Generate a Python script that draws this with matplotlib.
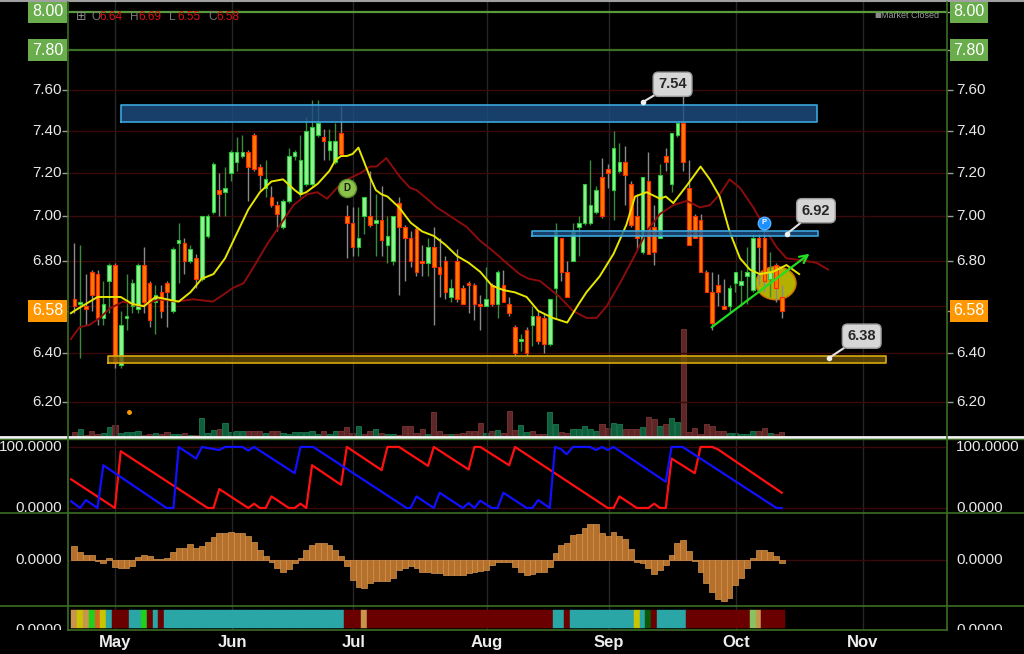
import numpy as np
import matplotlib.pyplot as plt
from matplotlib.patches import Ellipse
from matplotlib.transforms import ScaledTranslation, blended_transform_factory
from matplotlib.ticker import NullLocator
from matplotlib.lines import Line2D

plt.rcParams['font.family'] = ['Liberation Sans', 'DejaVu Sans']

# daily candles (bar index 0 = first visible session)
opens = [6.63, 6.61, 6.60, 6.75, 6.74, 6.55, 6.71, 6.78, 6.35, 6.55,
         6.60, 6.59, 6.78, 6.70, 6.62, 6.66, 6.70, 6.58, 6.88, 6.88,
         6.80, 6.81, 6.72, 6.91, 7.02, 7.12, 7.11, 7.20, 7.25, 7.28,
         7.30, 7.38, 7.23, 7.13, 7.09, 7.05, 6.95, 7.07, 7.28, 7.10,
         7.15, 7.15, 7.38, 7.37, 7.31, 7.25, 7.39, 7.00, 6.97, 6.86,
         7.00, 7.00, 6.97, 6.98, 6.87, 6.80, 7.06, 6.95, 6.90, 6.94,
         6.80, 6.79, 6.86, 6.77, 6.80, 6.64, 6.80, 6.68, 6.70, 6.69,
         6.61, 6.60, 6.69, 6.61, 6.69, 6.61, 6.51, 6.45, 6.50, 6.52,
         6.56, 6.55, 6.44, 6.68, 6.90, 6.75, 6.80, 6.95, 6.97, 6.97,
         7.02, 7.18, 7.22, 7.12, 7.21, 7.25, 7.15, 7.00, 6.84, 7.16,
         6.95, 6.90, 7.28, 7.15, 7.38, 7.44, 7.13, 7.00, 6.98, 6.75,
         6.66, 6.69, 6.60, 6.60, 6.70, 6.69, 6.73, 6.67, 6.90, 6.90,
         6.72, 6.78, 6.64]
highs = [6.88, 6.87, 6.74, 6.76, 6.76, 6.71, 6.79, 6.79, 6.58, 6.74,
         6.72, 6.79, 6.86, 6.71, 6.69, 6.69, 6.71, 6.86, 6.97, 6.90,
         6.87, 6.83, 7.00, 7.01, 7.25, 7.20, 7.23, 7.31, 7.37, 7.38,
         7.31, 7.39, 7.24, 7.26, 7.14, 7.07, 7.08, 7.32, 7.31, 7.38,
         7.47, 7.55, 7.55, 7.41, 7.41, 7.44, 7.52, 7.05, 7.04, 7.04,
         7.09, 7.21, 7.10, 7.14, 7.00, 7.00, 7.09, 6.96, 6.93, 6.95,
         6.87, 6.90, 6.95, 6.90, 6.82, 6.72, 6.85, 6.69, 6.71, 6.70,
         6.65, 6.77, 6.70, 6.76, 6.76, 6.64, 6.52, 6.48, 6.51, 6.60,
         6.58, 6.57, 6.63, 6.97, 6.90, 6.80, 6.97, 7.00, 7.15, 7.26,
         7.14, 7.27, 7.24, 7.40, 7.34, 7.33, 7.16, 7.10, 7.18, 7.30,
         7.05, 7.24, 7.32, 7.39, 7.44, 7.57, 7.26, 7.01, 7.01, 6.76,
         6.75, 6.74, 6.72, 6.69, 6.75, 6.76, 6.86, 6.92, 6.92, 6.94,
         6.84, 6.79, 6.69]
lows = [6.57, 6.38, 6.52, 6.58, 6.52, 6.52, 6.57, 6.34, 6.34, 6.50,
        6.57, 6.57, 6.57, 6.51, 6.48, 6.55, 6.51, 6.57, 6.70, 6.74,
        6.79, 6.68, 6.71, 6.90, 7.01, 7.00, 7.00, 7.16, 7.21, 7.27,
        7.07, 7.21, 7.12, 7.09, 7.04, 6.93, 6.94, 7.06, 7.26, 7.09,
        7.14, 7.14, 7.37, 7.26, 7.26, 7.24, 7.28, 6.81, 6.82, 6.82,
        6.92, 6.95, 6.82, 6.82, 6.79, 6.78, 6.65, 6.71, 6.77, 6.73,
        6.73, 6.73, 6.52, 6.64, 6.63, 6.62, 6.62, 6.61, 6.57, 6.54,
        6.50, 6.60, 6.60, 6.55, 6.62, 6.56, 6.39, 6.41, 6.39, 6.43,
        6.44, 6.40, 6.43, 6.55, 6.71, 6.64, 6.80, 6.82, 6.96, 6.96,
        7.01, 6.99, 7.13, 6.98, 7.20, 7.05, 6.95, 6.85, 6.83, 6.83,
        6.78, 6.90, 7.21, 7.11, 7.37, 7.21, 6.87, 6.90, 6.75, 6.66,
        6.50, 6.60, 6.59, 6.57, 6.66, 6.60, 6.61, 6.66, 6.69, 6.66,
        6.64, 6.62, 6.55]
closes = [6.60, 6.62, 6.59, 6.65, 6.55, 6.61, 6.78, 6.36, 6.52, 6.56,
          6.70, 6.78, 6.62, 6.54, 6.65, 6.58, 6.66, 6.85, 6.89, 6.80,
          6.85, 6.72, 7.00, 7.00, 7.24, 7.10, 7.13, 7.30, 7.30, 7.30,
          7.23, 7.22, 7.19, 7.17, 7.05, 7.01, 7.07, 7.28, 7.30, 7.26,
          7.40, 7.42, 7.44, 7.35, 7.35, 7.35, 7.29, 6.97, 6.86, 6.90,
          7.09, 6.96, 6.98, 6.89, 6.91, 7.00, 6.95, 6.90, 6.80, 6.75,
          6.79, 6.86, 6.77, 6.74, 6.66, 6.68, 6.63, 6.61, 6.69, 6.61,
          6.60, 6.63, 6.61, 6.75, 6.62, 6.57, 6.40, 6.46, 6.40, 6.56,
          6.45, 6.44, 6.63, 6.93, 6.75, 6.64, 6.93, 6.97, 7.15, 7.05,
          7.12, 7.00, 7.20, 7.32, 7.25, 7.19, 6.96, 6.90, 7.18, 6.83,
          6.84, 7.19, 7.25, 7.39, 7.44, 7.25, 6.87, 6.90, 6.75, 6.66,
          6.53, 6.66, 6.59, 6.68, 6.75, 6.71, 6.75, 6.90, 6.86, 6.71,
          6.75, 6.68, 6.58]
volume = [5, 8, 2, 6, 3, 4, 10, 12, 4, 5, 5, 6, 2, 3, 4, 3, 5, 3, 3, 4,
          2, 2, 19, 4, 7, 8, 14, 5, 6, 6, 6, 6, 6, 4, 6, 6, 4, 3, 5, 5,
          5, 6, 3, 6, 3, 6, 6, 10, 4, 11, 3, 6, 8, 4, 3, 3, 2, 11, 11, 4,
          8, 3, 25, 6, 3, 3, 3, 4, 6, 6, 14, 4, 6, 7, 4, 26, 7, 12, 5, 6,
          3, 3, 25, 13, 5, 4, 8, 8, 11, 8, 6, 13, 9, 14, 13, 8, 8, 8, 10, 20,
          18, 11, 13, 19, 15, 108, 5, 9, 3, 13, 11, 6, 6, 4, 4, 3, 3, 6, 6, 9,
          4, 3, 5]
volume_dir = ("rgrrrggrgggg rrgrrggrgr gggrggggrrrgrrgggggggrggrrrgrrgrggrrrrr"
              "grrrgrrrrrgrgrrrggrrrggrrgggggrrggrrrgrrgrggrrrrrrrrgggggrrgrr").replace(" ", "")

# moving averages (bar index, price)
fast_x = [-0.6, 0, 2, 4, 6, 8, 10, 12, 14, 16, 18, 20, 22, 24, 26, 28, 30, 32, 34, 36,
          38, 39, 40, 42, 44, 45, 46, 47, 48, 49, 50, 51, 52, 53, 54, 56, 58, 60, 62, 64,
          66, 68, 70, 72, 74, 76, 78, 80, 82.5, 85, 87, 88.3, 90.6, 93, 95.2, 96.7, 98.7,
          101, 102, 103.3, 105.6, 108, 109.6, 111.3, 113, 114.8, 116.5, 118.2, 120.5, 122.8, 125]
fast_ma = [6.57, 6.58, 6.61, 6.64, 6.64, 6.64, 6.61, 6.60, 6.64, 6.63, 6.62, 6.66, 6.72, 6.74,
           6.81, 6.92, 7.03, 7.11, 7.16, 7.17, 7.12, 7.10, 7.11, 7.15, 7.21, 7.26, 7.28, 7.28,
           7.29, 7.32, 7.25, 7.18, 7.12, 7.10, 7.09, 7.04, 6.97, 6.93, 6.91, 6.87, 6.82, 6.79,
           6.75, 6.69, 6.67, 6.66, 6.64, 6.58, 6.55, 6.53, 6.61, 6.66, 6.73, 6.83, 6.96, 7.09,
           7.11, 7.08, 7.09, 7.06, 7.14, 7.23, 7.17, 7.09, 6.93, 6.81, 6.76, 6.74, 6.75, 6.78, 6.74]
slow_x = [-0.6, 0.9, 2.6, 4.4, 6.1, 8.4, 11.3, 14.7, 17.6, 20.5, 23.9, 25.7, 27.4, 29.2, 30.9,
          33.2, 35.5, 37.8, 40.1, 41.9, 43.6, 45.3, 47.1, 49.4, 51, 52.1, 53.8, 56.2, 57.9, 59,
          60.8, 62.5, 64.8, 67.7, 69.9, 72.3, 74.5, 76.8, 78.3, 80.3, 83.7, 86, 88.3, 90.1,
          91.8, 94.1, 96.4, 98.7, 101, 103.3, 105.6, 107.9, 109.6, 111.3, 113, 114.8, 117.1,
          119.4, 121.1, 122.8, 125.7, 128, 130]
slow_ma = [6.46, 6.51, 6.52, 6.55, 6.59, 6.62, 6.60, 6.63, 6.62, 6.63, 6.62, 6.65, 6.68, 6.70,
           6.77, 6.87, 6.96, 7.05, 7.10, 7.11, 7.08, 7.13, 7.17, 7.20, 7.23, 7.23, 7.27, 7.18,
           7.13, 7.12, 7.08, 7.04, 7.00, 6.95, 6.89, 6.84, 6.79, 6.74, 6.72, 6.71, 6.64, 6.58,
           6.55, 6.55, 6.60, 6.70, 6.81, 6.93, 7.01, 7.05, 7.07, 7.04, 7.05, 7.10, 7.17, 7.13,
           7.04, 6.93, 6.86, 6.81, 6.80, 6.79, 6.76]

# aroon-style oscillator vertices
up_x = [-0.55, 1, 2, 4, 5, 15.9, 17.1, 18, 21, 22, 25, 26, 29, 30, 31, 38, 39, 41.2, 57.3, 58,
        59, 62, 63, 67, 68, 69, 70, 72, 73, 74, 78, 79, 80, 82, 82.9, 84, 84.9, 86, 88.9, 90,
        91, 92, 93, 102, 103, 104.9, 121.1, 122]
up_val = [11, 0, 13, 0, 70, 0, 0, 100, 81, 100, 95, 100, 100, 94, 100, 57, 100, 100, 0, 0,
          19, 0, 25, 0, 8, 0, 12, 0, 0, 25, 0, 0, 13, 0, 100, 96, 88, 100, 100, 95,
          100, 95, 100, 43, 100, 100, 0, 0]
down_x = [-0.55, 7, 8, 23, 24, 25, 30, 31, 32, 33, 34, 37, 38, 39, 40, 41, 46, 47, 53, 54, 56,
          61, 62, 68, 69, 70, 75, 76, 92, 93, 94, 97, 99, 100, 101, 102, 103, 107, 108, 110,
          111, 122]
down_val = [47, 0, 93, 0, 0, 31, 0, 7, 0, 0, 19, 0, 0, 7, 0, 70, 38, 100, 62, 100, 100,
            69, 100, 63, 100, 100, 70, 100, 0, 0, 19, 0, 0, 7, 0, 0, 81, 57, 100, 100,
            96, 25]

hist = [14, 8, 5, 5, -1, -3, 2, -7, -8, -8, -6, 3, 5, 4, 1, 1, 2, 8, 12, 12,
        16, 12, 14, 18, 23, 27, 27, 28, 27, 27, 24, 18, 10, 4, -2, -8, -12, -9, -3, 2,
        10, 15, 17, 17, 15, 10, 4, -6, -20, -27, -28, -23, -21, -21, -21, -18, -10, -8, -6, -8,
        -12, -12, -13, -13, -15, -15, -15, -15, -13, -12, -11, -10, -5, -2, -2, -2, -7, -12, -15, -14,
        -12, -12, -7, 7, 15, 17, 25, 26, 32, 36, 36, 27, 24, 28, 24, 21, 11, -2, -3, -8,
        -14, -10, -5, 5, 17, 20, 9, -1, -12, -23, -32, -39, -41, -38, -25, -18, -8, 2, 10, 10,
        8, 4, -3]

# state strip: (state, number of bars)
strip_runs = [('tan', 1), ('yellow', 1), ('tan', 1), ('green', 1), ('orange', 1), ('yellow', 1),
              ('teal', 1), ('dred', 3), ('teal', 2), ('green', 1), ('dred', 1), ('teal', 1),
              ('dred', 1), ('teal', 31), ('dred', 3), ('tan', 1), ('dred', 32), ('teal', 2),
              ('dred', 1), ('teal', 11), ('yellow', 1), ('teal', 1), ('dgreen', 1), ('dred', 1),
              ('teal', 5), ('dred', 11), ('lgreen', 1), ('tan', 1), ('dred', 4)]

month_names = ['May', 'Jun', 'Jul', 'Aug', 'Sep', 'Oct', 'Nov']
month_pos = [7.0, 27.2, 48.1, 71.1, 92.2, 114.1, 136.0]

price_ticks = [6.2, 6.4, 6.8, 7.0, 7.2, 7.4, 7.6]
grid_levels = [6.2, 6.4, 6.6, 6.8, 7.0, 7.2, 7.4, 7.6]
alert_levels = [8.00, 7.80]
last_price = 6.58

zones = [(8.1, 128.1, 7.443, 7.526), (78.9, 128.2, 6.91, 6.93), (5.8, 140.0, 6.36, 6.39)]
callout_levels = [7.54, 6.92, 6.38]
callout_bar = [98.0, 122.9, 130.1]
trend_from = (109.9, 6.51)
trend_to = (126.8, 6.83)

W, H = 1024, 654
fig = plt.figure(figsize=(W / 100, H / 100), dpi=100, facecolor='black')


def pax(x0, y0, x1, y1):
    a = fig.add_axes([x0 / W, 1 - y1 / H, (x1 - x0) / W, (y1 - y0) / H])
    a.set_facecolor('black')
    for s in a.spines.values():
        s.set_visible(False)
    a.tick_params(left=False, bottom=False, labelleft=False, labelbottom=False)
    a.set_xlim(-1.09, 150.5)
    return a


def fline(xs, ys, color, lw):
    fig.add_artist(Line2D([x / W for x in xs], [1 - y / H for y in ys], color=color, lw=lw))


def ftext(x, y, s, **kw):
    fig.text(x / W, 1 - y / H, s, **kw)


ax = pax(68, 2, 947, 437)
axv = ax.twinx()
for s in axv.spines.values():
    s.set_visible(False)
axv.tick_params(right=False, labelright=False)
axv.set_ylim(0, 435)
axv.set_facecolor('black')
ax.set_zorder(axv.get_zorder() + 1)
ax.patch.set_visible(False)

ax_ar = pax(68, 439, 947, 513)
ax_h = pax(68, 513, 947, 606)
ax_s = pax(68, 606, 947, 630)

o = np.array(opens)
hi = np.array(highs)
lo = np.array(lows)
c = np.array(closes)
idx = np.arange(len(c))
up = c >= o

# volume
vcol = ['#0f5e3c' if d == 'g' else '#5e2626' for d in volume_dir]
vedge = ['#1b7a50' if d == 'g' else '#7a3434' for d in volume_dir]
axv.bar(idx, volume, width=0.9, color=vcol, edgecolor=vedge, lw=0.6)

# price panel
ax.set_yscale('log')
ax.set_ylim(6.06, 8.05)
ax.yaxis.set_minor_locator(NullLocator())
for a in (ax, ax_ar, ax_h, ax_s):
    for m in month_pos:
        a.axvline(m, color='#262626', lw=1, zorder=0)
for g in grid_levels:
    ax.axhline(g, color='#3a0909', lw=1, zorder=1)
ax.axhline(alert_levels[0], color='#5a9a3a', lw=1.6, zorder=1)
ax.axhline(alert_levels[1], color='#3c6e24', lw=1.6, zorder=1)

for (x0, x1, y0, y1), fc, ec in zip(zones, ['#1d4f86', '#1d4f86', '#6a5008'],
                                     ['#3aa6dc', '#3aa6dc', '#d6aa10']):
    ax.fill_between([x0, x1], y0, y1, color=fc, alpha=0.8, lw=0, zorder=6)
    ax.plot([x0, x1, x1, x0, x0], [y0, y0, y1, y1, y0], color=ec, lw=1.2, zorder=6)

ell_tr = fig.dpi_scale_trans + ScaledTranslation(121, 6.70, ax.transData)
ax.add_patch(Ellipse((0, 0), 0.40, 0.33, transform=ell_tr, fc='#c8c400', ec='#d07a00',
                     lw=1.2, alpha=0.9, zorder=2.5))

body_lo = np.minimum(o, c)
body_h = np.maximum(np.abs(c - o), 0.006)
ax.vlines(idx[up], lo[up], hi[up], color='#3d8a3d', lw=1, zorder=3)
ax.vlines(idx[~up], lo[~up], hi[~up], color='#8a8a8a', lw=1, zorder=3)
ax.bar(idx[up], body_h[up], bottom=body_lo[up], width=0.62, color='#96ef96',
       edgecolor='#22cc33', lw=0.8, zorder=4)
ax.bar(idx[~up], body_h[~up], bottom=body_lo[~up], width=0.62, color='#ff7a00',
       edgecolor='#ff2a00', lw=0.8, zorder=4)

ax.plot(slow_x, slow_ma, color='#8b0c0c', lw=1.4, zorder=5)
ax.plot(fast_x, fast_ma, color='#e6e600', lw=1.4, zorder=5)

ax.annotate('', xy=trend_to, xytext=trend_from,
            arrowprops=dict(arrowstyle='->', color='#22dd22', lw=1.6, mutation_scale=14,
                            shrinkA=0, shrinkB=0), zorder=7)

for lvl, xb, off in zip(callout_levels, callout_bar, [(30, 18), (29, 23), (33, 22)]):
    ax.annotate(f'{lvl:.2f}', xy=(xb, lvl), xytext=off, textcoords='offset pixels',
                ha='center', va='center', fontsize=10.5, fontweight='bold', color='#262626',
                bbox=dict(boxstyle='round,pad=0.35', fc='#d6d6d6', ec='#9a9a9a', lw=1),
                arrowprops=dict(arrowstyle='-', color='#e0e0e0', lw=1.5, shrinkA=0, shrinkB=0),
                zorder=8)
    ax.plot(xb, lvl, 'o', ms=3, color='#f0f0f0', zorder=9)

ax.plot(119, 6.97, 'o', ms=9, mfc='#1e8fff', mec='#56b0ff', zorder=8)
ax.text(119, 6.97, 'P', color='white', fontsize=5.5, fontweight='bold', ha='center',
        va='center', zorder=9)
ax.plot(47, 7.13, 'o', ms=13, mfc='#8bc34a', mec='#5c8f2c', zorder=8)
ax.text(47, 7.13, 'D', color='#1c1c1c', fontsize=7, fontweight='bold', ha='center',
        va='center', zorder=9)
ax.plot(9.4, 6.16, 'o', ms=2.5, color='#ff9a00', zorder=8)

ax.set_yticks(price_ticks + alert_levels + [last_price])
ax.tick_params(axis='y', which='major', left=True, right=True, length=4, width=1,
               color='#9a9a9a', labelleft=False, labelright=False)
ytr = ax.get_yaxis_transform()
for p in price_ticks:
    ax.text(-0.0068, p, f'{p:.2f}', transform=ytr, ha='right', va='center',
            color='#e8e8e8', fontsize=11)
    ax.text(1.0102, p, f'{p:.2f}', transform=ytr, ha='left', va='center',
            color='#e8e8e8', fontsize=11)
for p, fc in zip(alert_levels + [last_price], ['#69ad4c', '#69ad4c', '#ff9800']):
    ax.text(-0.0055, p, f'{p:.2f}', transform=ytr, ha='right', va='center', color='white',
            fontsize=11.5, bbox=dict(boxstyle='square,pad=0.22', fc=fc, ec='none'))
    ax.text(1.0075, p, f'{p:.2f}', transform=ytr, ha='left', va='center', color='white',
            fontsize=11.5, bbox=dict(boxstyle='square,pad=0.22', fc=fc, ec='none'))

# oscillator panel
ax_ar.set_ylim(-8.2, 113)
for g in (0, 100):
    ax_ar.axhline(g, color='#3a0909', lw=1, zorder=1)
ax_ar.plot(down_x, down_val, color='#ff1010', lw=1.6, zorder=3)
ax_ar.plot(up_x, up_val, color='#1010ff', lw=1.6, zorder=3)
atr = ax_ar.get_yaxis_transform()
for g, s in ((100, '100.0000'), (0, '0.0000')):
    ax_ar.text(-0.0068, g, s, transform=atr, ha='right', va='center', color='#e8e8e8', fontsize=11)
    ax_ar.text(1.0102, g, s, transform=atr, ha='left', va='center', color='#e8e8e8', fontsize=11)

# histogram panel
ax_h.set_ylim(-46, 47)
ax_h.axhline(0, color='#3a0909', lw=1, zorder=1)
ax_h.bar(idx, hist, width=1.0, color='#b5702c', edgecolor='#d49650', lw=0.5, zorder=3)
htr = ax_h.get_yaxis_transform()
ax_h.text(-0.0068, 0, '0.0000', transform=htr, ha='right', va='center', color='#e8e8e8', fontsize=11)
ax_h.text(1.0102, 0, '0.0000', transform=htr, ha='left', va='center', color='#e8e8e8', fontsize=11)

# state strip
state_col = {'teal': '#2aa6a6', 'dred': '#6a0000', 'tan': '#c8964a', 'yellow': '#c9c400',
             'green': '#1fd01f', 'orange': '#d26a1e', 'lgreen': '#86c460', 'dgreen': '#0a5a0a'}
strip_colors = [state_col[s] for s, k in strip_runs for _ in range(k)]
ax_s.set_ylim(0, 1)
ax_s.bar(idx, 0.76, bottom=0.08, width=1.0, color=strip_colors, edgecolor=strip_colors, lw=0.3)
btr = blended_transform_factory(ax_s.transData, ax_s.transAxes)
for name, pos in zip(month_names, month_pos):
    ax_s.text(pos, -0.52, name, transform=btr, ha='center', va='center', color='#eeeeee',
              fontsize=12, fontweight='bold')

ax_clip = fig.add_axes([0, 1 - 630 / H, 1, 24 / H])
ax_clip.set_axis_off()
ax_clip.text(62 / W, 0.0, '0.0000', ha='right', va='center', color='#e8e8e8', fontsize=11,
             clip_on=True)
ax_clip.text(956 / W, 0.0, '0.0000', ha='left', va='center', color='#e8e8e8', fontsize=11,
             clip_on=True)

# frame lines
fline([0, W], [0.8, 0.8], '#a0a0a0', 1.5)
fline([0, W], [436.5, 436.5], '#f4f4f4', 2)
fline([0, W], [439, 439], '#3c6e24', 1)
fline([0, W], [513, 513], '#3c6e24', 1.2)
fline([0, W], [606, 606], '#3c6e24', 1.2)
fline([68, 947], [630, 630], '#3c6e24', 1.2)
fline([68, 68], [2, 630], '#3c6e24', 1.2)
fline([947, 947], [2, 630], '#3c6e24', 1.2)

# header
ftext(76, 17, '\u229e', color='#8a8a8a', fontsize=9, va='center', family=['DejaVu Sans'])
hx = 91
for k, v in zip(['O', 'H', 'L', 'C'], ['6.64', '6.69', '6.55', '6.58']):
    ftext(hx, 17, k, color='#7a7a7a', fontsize=8.5, va='center')
    ftext(hx + 8, 17, v, color='#e01010', fontsize=8.5, va='center')
    hx += 39
ftext(874, 15, '\u25a0', color='#8a8a8a', fontsize=5, va='center', family=['DejaVu Sans'])
ftext(881, 15, 'Market Closed', color='#9a9a9a', fontsize=6.5, va='center')

fig.savefig('out.png', dpi=100, facecolor='black')
